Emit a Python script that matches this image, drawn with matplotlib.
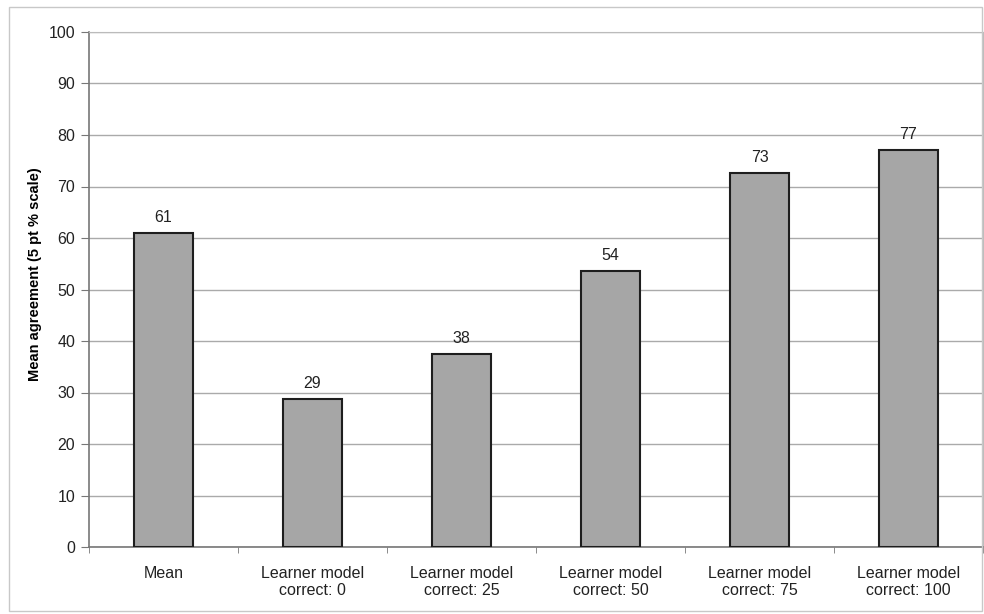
import matplotlib
matplotlib.use('Agg')
import matplotlib.pyplot as plt
import matplotlib.patches as mpatches
import numpy as np

categories = ['Mean', 'Learner model\ncorrect: 0', 'Learner model\ncorrect: 25',
              'Learner model\ncorrect: 50', 'Learner model\ncorrect: 75', 'Learner model\ncorrect: 100']
values = [60.9, 28.7, 37.5, 53.6, 72.6, 77.0]
bar_labels = ['61', '29', '38', '54', '73', '77']
yticks = list(range(0, 101, 10))

plt.rcParams['font.family'] = ['Liberation Sans', 'DejaVu Sans']

fig = plt.figure(figsize=(9.84, 6.14), dpi=100)
ax = fig.add_axes([89/984, 1-547/614, (983-89)/984, (547-32)/614])

# light grey frame around the whole chart
fig.patches.append(mpatches.Rectangle((9/984, 3/614), (982-9)/984, (607-3)/614,
                                      transform=fig.transFigure, fill=False,
                                      edgecolor='#c8c8c8', linewidth=1))

x = np.arange(len(categories))
ax.bar(x, values, width=0.4, color='#a6a6a6', edgecolor='#1e1e1e', linewidth=1.5, zorder=3)
for xi, v, lab in zip(x, values, bar_labels):
    ax.text(xi, v + 1.6, lab, ha='center', va='bottom', fontsize=11.5, color='#222222')

ax.set_xlim(-0.5, len(categories) - 0.5)
ax.set_ylim(0, 100)
ax.set_yticks(yticks)
ax.set_xticks(x)
ax.set_xticklabels(categories, fontsize=11.5, color='#222222', linespacing=1.1)
ax.set_xticks(np.arange(-0.5, len(categories), 1), minor=True)
ax.tick_params(axis='x', which='major', length=0, pad=14)
ax.tick_params(axis='x', which='minor', length=4, color='#777777')
ax.tick_params(axis='y', length=6, color='#777777', labelsize=11.5, labelcolor='#222222', pad=4)

ax.yaxis.grid(True, color='#aaaaaa', linewidth=1, zorder=0)
ax.set_axisbelow(True)
for side in ['top', 'right']:
    ax.spines[side].set_color('#bbbbbb')
for side in ['left', 'bottom']:
    ax.spines[side].set_color('#777777')
    ax.spines[side].set_linewidth(1.2)

ax.set_ylabel('Mean agreement (5 pt % scale)', fontsize=10.5, fontweight='bold')
ax.yaxis.set_label_coords(-0.0526, 0.53)

fig.savefig('out.png', dpi=100)
